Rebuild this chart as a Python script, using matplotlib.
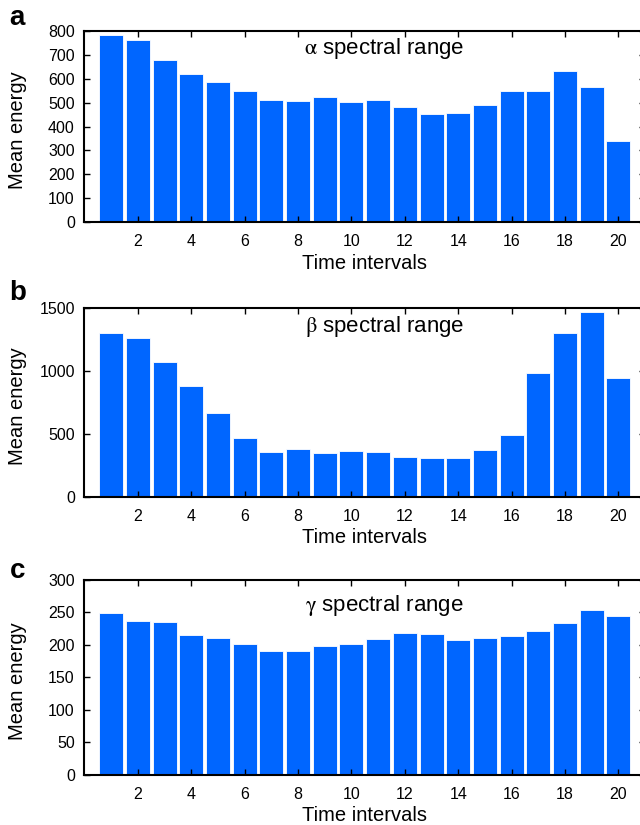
import numpy as np
import matplotlib
matplotlib.use("Agg")
import matplotlib.pyplot as plt

plt.rcParams['font.family'] = ['Liberation Sans', 'DejaVu Sans']
plt.rcParams['mathtext.fontset'] = 'stix'

# Data
intervals = np.arange(1, 21)
alpha_energy = [785, 765, 680, 622, 587, 548, 510, 509, 526, 502,
                513, 482, 455, 457, 491, 549, 548, 633, 566, 338]
beta_energy = [1300, 1262, 1070, 880, 663, 466, 358, 378, 345, 360,
               358, 316, 308, 308, 368, 492, 982, 1303, 1468, 943]
gamma_energy = [249, 237, 235, 215, 210, 202, 190, 191, 198, 201,
                209, 218, 216, 207, 210, 213, 221, 233, 254, 245]

panels = [
    ('a', r'$\mathrm{\alpha}$ spectral range', alpha_energy, 800, np.arange(0, 801, 100)),
    ('b', r'$\mathrm{\beta}$ spectral range', beta_energy, 1500, [0, 500, 1000, 1500]),
    ('c', r'$\mathrm{\gamma}$ spectral range', gamma_energy, 300, np.arange(0, 301, 50)),
]

# axes boxes in figure fraction: left, bottom, width, height
boxes = [
    [0.132, 0.731, 0.876, 0.231],
    [0.132, 0.398, 0.876, 0.229],
    [0.132, 0.061, 0.876, 0.236],
]
title_y = [0.912, 0.90, 0.87]
letter_y = [0.978, 0.645, 0.308]

fig = plt.figure(figsize=(6.4, 8.25), dpi=100)
bar_color = '#0066ff'

for (letter, title, vals, ymax, yticks), box, ty, ly in zip(panels, boxes, title_y, letter_y):
    ax = fig.add_axes(box)
    ax.bar(intervals, vals, width=0.9, color=bar_color, edgecolor='white', linewidth=0.6)
    ax.set_xlim(0, 21)
    ax.set_ylim(0, ymax)
    ax.set_xticks(np.arange(2, 21, 2))
    ax.set_yticks(yticks)
    ax.tick_params(direction='in', top=True, right=True, length=4, width=1,
                   labelsize=11.5)
    ax.tick_params(axis='x', pad=9)
    ax.tick_params(axis='y', pad=7)
    for s in ax.spines.values():
        s.set_linewidth(1.5)
    ax.set_xlabel('Time intervals', fontsize=14.5, labelpad=3)
    ax.set_ylabel('Mean energy', fontsize=14.5)
    ax.yaxis.set_label_coords(-0.103, 0.48)
    ax.text(0.535, ty, title, transform=ax.transAxes, ha='center', va='center',
            fontsize=16)
    fig.text(0.027, ly, letter, fontsize=20, fontweight='bold', ha='center', va='center')

plt.savefig('out.png', dpi=100)
